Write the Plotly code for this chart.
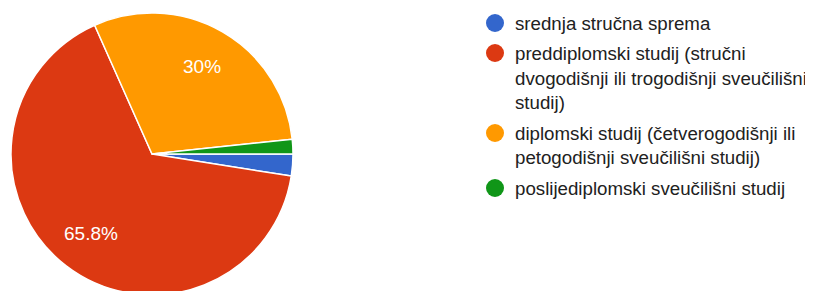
import math
import plotly.graph_objects as go

W, H = 813, 291
OFF = 8  # page body margin offset compensation

labels = [
    "srednja stručna sprema",
    "preddiplomski studij (stručni dvogodišnji ili trogodišnji sveučilišni studij)",
    "diplomski studij (četverogodišnji ili petogodišnji sveučilišni studij)",
    "poslijediplomski sveučilišni studij",
]
legend_lines = [
    ["srednja stručna sprema"],
    ["preddiplomski studij (stručni", "dvogodišnji ili trogodišnji sveučilišni", "studij)"],
    ["diplomski studij (četverogodišnji ili", "petogodišnji sveučilišni studij)"],
    ["poslijediplomski sveučilišni studij"],
]
values = [3, 79, 36, 2]
colors = ["#3366cc", "#dc3912", "#ff9900", "#109618"]

FONT = "Liberation Sans, Arial, sans-serif"


def px(x):
    return (x - OFF) / W


def py(y):
    return 1 - (y - OFF) / H


# pie geometry (screen pixels)
CX, CY, R = 152, 154, 141

fig = go.Figure()
fig.add_trace(go.Pie(
    labels=labels,
    values=values,
    textinfo="none",
    marker=dict(colors=colors, line=dict(color="white", width=1.5)),
    sort=False,
    direction="clockwise",
    rotation=90,
    showlegend=False,
    hoverinfo="label+percent",
    domain=dict(x=[px(CX - R), px(CX + R)], y=[py(CY + R), py(CY - R)]),
))

annotations = []
shapes = []

# percentage labels inside the large slices
total = sum(values)
cum = 0.0
for v in values:
    p = 100.0 * v / total
    mid = (cum + v / 2) / total * 360.0  # degrees clockwise from 3 o'clock
    cum += v
    if p < 5:
        continue
    a = math.radians(mid)
    lx = CX + 0.715 * R * math.cos(a)
    ly = CY + 0.715 * R * math.sin(a)
    annotations.append(dict(
        text=f"{p:.3g}%", xref="paper", yref="paper",
        x=px(lx), y=py(ly), xanchor="center", yanchor="middle",
        showarrow=False,
        font=dict(family=FONT, size=19, color="white"),
    ))

# custom legend (circle swatches + text)
item_first_line_y = [23, 53, 133, 188]
line_h = 25
sw_x = 495
txt_x = 513
for i, lines in enumerate(legend_lines):
    cy = item_first_line_y[i]
    shapes.append(dict(
        type="circle", xref="paper", yref="paper",
        x0=px(sw_x - 9), x1=px(sw_x + 9),
        y0=py(cy + 9), y1=py(cy - 9),
        fillcolor=colors[i], line=dict(width=0),
    ))
    for j, ln in enumerate(lines):
        y = cy + j * line_h
        annotations.append(dict(
            text=ln, xref="paper", yref="paper",
            x=px(txt_x), y=py(y), xanchor="left", yanchor="middle",
            showarrow=False,
            font=dict(family=FONT, size=18.7, color="#212121"),
        ))

fig.update_layout(
    width=W, height=H,
    margin=dict(l=0, r=0, t=0, b=0),
    paper_bgcolor="white",
    plot_bgcolor="white",
    shapes=shapes,
    annotations=annotations,
)

fig.write_html("out.html")
